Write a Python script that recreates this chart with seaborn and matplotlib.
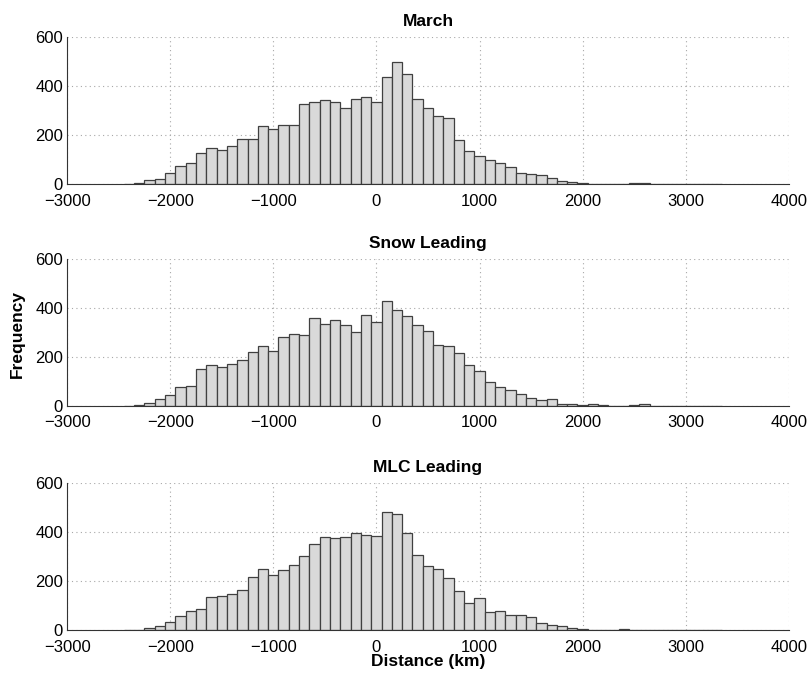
import numpy as np
import pandas as pd
import matplotlib
matplotlib.use("Agg")
import matplotlib.pyplot as plt
import seaborn as sns

sns.set_style("white")
plt.rcParams['font.family'] = ['Liberation Sans', 'DejaVu Sans']
plt.rcParams['axes.unicode_minus'] = True
plt.rcParams['text.color'] = 'black'
plt.rcParams['axes.labelcolor'] = 'black'

# bin centres (km), 100 km bins
centres = list(range(-2400, 3400, 100))

march = [0, 3, 15, 20, 45, 72, 84, 128, 147, 140, 157, 185, 185, 235, 226,
         239, 242, 326, 334, 343, 336, 311, 347, 355, 336, 436, 500, 451,
         346, 311, 276, 269, 181, 134, 116, 100, 84, 70, 46, 39, 35, 24, 14,
         7, 3, 2, 1, 1, 1, 5, 5, 0, 0, 0, 0, 0, 0, 0]

snow = [1, 5, 12, 27, 45, 76, 80, 149, 165, 157, 169, 186, 220, 242, 224,
        282, 292, 290, 358, 335, 350, 329, 302, 371, 343, 427, 389, 367,
        328, 304, 250, 246, 217, 165, 140, 96, 76, 63, 50, 32, 23, 27, 8,
        8, 4, 7, 2, 1, 1, 2, 7, 1, 1, 1, 0, 0, 0, 0]

mlc = [0, 0, 8, 16, 34, 58, 80, 85, 136, 141, 148, 166, 217, 250, 225,
       244, 267, 301, 353, 381, 377, 379, 398, 389, 385, 484, 475, 395,
       308, 263, 250, 213, 161, 109, 133, 76, 79, 64, 62, 54, 31, 23, 19,
       9, 5, 2, 2, 1, 3, 1, 1, 0, 1, 0, 0, 0, 0, 1]

titles = ['March', 'Snow Leading', 'MLC Leading']
series = [march, snow, mlc]

xticks = [-3000, -2000, -1000, 0, 1000, 2000, 3000, 4000]
yticks = [0, 200, 400, 600]

fig = plt.figure(figsize=(8.09, 6.74), dpi=100)
left, width, height = 0.083, 0.892, 0.218
bottoms = [0.727, 0.398, 0.065]

for title, counts, bottom in zip(titles, series, bottoms):
    ax = fig.add_axes([left, bottom, width, height])
    df = pd.DataFrame({'centre': centres, 'count': counts})
    sns.histplot(data=df, x='centre', weights='count', binwidth=100,
                 binrange=(-2450, 3350), color='#d9d9d9', edgecolor='#404040',
                 linewidth=0.9, alpha=1.0, ax=ax)
    ax.set_xlim(-3000, 4000)
    ax.set_ylim(0, 600)
    ax.set_xticks(xticks)
    ax.set_yticks(yticks)
    ax.grid(True, linestyle=(0, (1, 3)), color='#a8a8a8', linewidth=0.8)
    ax.set_axisbelow(True)
    for s in ['top', 'right']:
        ax.spines[s].set_visible(False)
    for s in ['left', 'bottom']:
        ax.spines[s].set_color('#333333')
        ax.spines[s].set_linewidth(0.8)
    ax.tick_params(direction='in', length=5, width=0.8, labelsize=12,
                   colors='black')
    ax.tick_params(axis='x', pad=7)
    ax.tick_params(axis='y', pad=3)
    for lab in ax.get_yticklabels():
        lab.set_verticalalignment('center_baseline')
    ax.set_title(title, fontsize=12.5, fontweight='bold', pad=8,
                 color='black')
    ax.set_ylabel('')
    ax.set_xlabel('')

ax.set_xlabel('Distance (km)', fontsize=12.5, fontweight='bold', labelpad=-1)
fig.text(0.022, 0.505, 'Frequency', rotation=90, fontsize=12.5,
         fontweight='bold', ha='center', va='center')

fig.savefig('out.png', dpi=100)
